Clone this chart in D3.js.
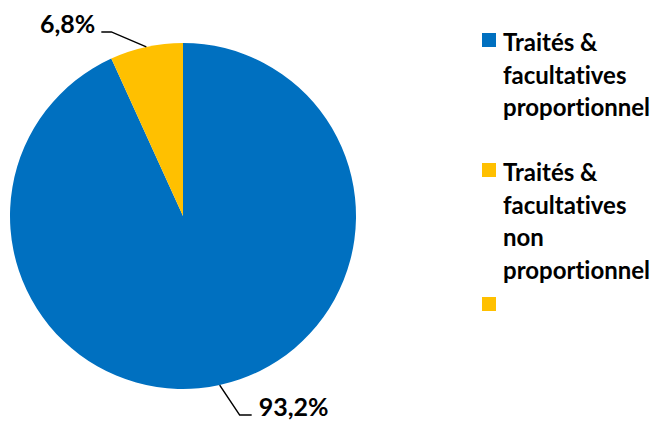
<!DOCTYPE html>
<html>
<head>
<meta charset="utf-8">
<script src="https://cdn.jsdelivr.net/npm/d3@7"></script>
<style>
html,body{margin:0;padding:0;background:#fff;}
svg{display:block;}
text{font-family:Lato,"Open Sans",sans-serif;font-weight:700;fill:#000;font-variant-ligatures:none;font-feature-settings:"liga" 0,"clig" 0;}
</style>
</head>
<body>
<svg id="chart" width="662" height="424"></svg>
<script>
// Data
const categories = ["Traités & facultatives proportionnel", "Traités & facultatives non proportionnel", ""];
const legendLines = [["Traités &", "facultatives", "proportionnel"], ["Traités &", "facultatives", "non", "proportionnel"], []];
const values = [93.2, 6.8];
const valueLabels = ["93,2%", "6,8%"];
const colors = ["#0070C0", "#FFC000", "#FFC000"];

const svg = d3.select("#chart");
const cx = 183, cy = 216, r = 173;

const pie = d3.pie().sort(null).value(d => d)(values);
const arc = d3.arc().innerRadius(0).outerRadius(r);
const edge = d3.arc().innerRadius(r).outerRadius(r);

const g = svg.append("g").attr("transform", `translate(${cx},${cy})`);
g.selectAll("path.slice").data(pie).join("path")
  .attr("class", "slice")
  .attr("d", arc)
  .attr("fill", (d, i) => colors[i]);

// Leader lines and labels
const labelCfg = [
  {dx: 20, dy: 30, hx: 12, anchor: "start"},   // 93,2%
  {dx: -35, dy: -15, hx: -10, anchor: "end"}   // 6,8%
];
pie.forEach((d, i) => {
  const [x0, y0] = edge.centroid(d);
  const c = labelCfg[i];
  const x1 = x0 + c.dx, y1 = y0 + c.dy, x2 = x1 + c.hx;
  g.append("polyline")
    .attr("points", [[x0, y0], [x1, y1], [x2, y1]].map(p => p.join(",")).join(" "))
    .attr("fill", "none").attr("stroke", "#000").attr("stroke-width", 1.5);
  g.append("text")
    .attr("x", x2 + (c.anchor === "start" ? 7 : -6))
    .attr("y", y1 + 1)
    .attr("text-anchor", c.anchor)
    .attr("font-size", 25)
    .text(valueLabels[i]);
});

// Legend
const legend = svg.append("g").attr("transform", "translate(482,0)");
const lineH = 32.5;
const entryTop = [51, 181, 315];
categories.forEach((cat, i) => {
  const base = entryTop[i];
  const item = legend.append("g");
  item.append("rect").attr("x", 0).attr("y", base - 18).attr("width", 14).attr("height", 14).attr("fill", colors[i]);
  const t = item.append("text").attr("x", 21).attr("y", base).attr("font-size", 24);
  legendLines[i].forEach((ln, j) => {
    t.append("tspan").attr("x", 21).attr("y", base + j * lineH).text(ln);
  });
});
</script>
</body>
</html>
